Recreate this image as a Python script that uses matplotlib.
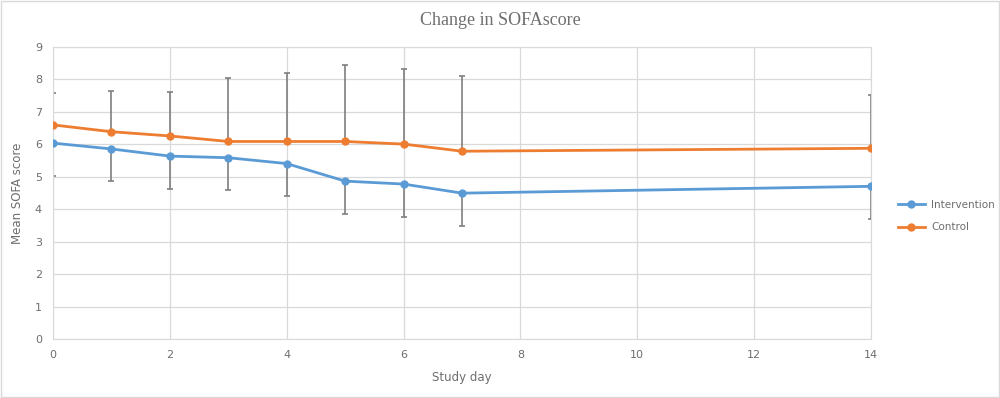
import matplotlib.pyplot as plt
import numpy as np

# Study days and mean SOFA score per group
days = [0, 1, 2, 3, 4, 5, 6, 7, 14]
intervention = [6.03, 5.85, 5.63, 5.58, 5.40, 4.86, 4.77, 4.49, 4.70]
control = [6.59, 6.38, 6.25, 6.08, 6.08, 6.08, 6.00, 5.78, 5.87]

# Error bars: intervention shown below only, control above only
intervention_err = [1.00, 0.99, 1.00, 0.99, 0.99, 1.00, 1.00, 1.01, 1.01]
control_err = [0.97, 1.25, 1.35, 1.94, 2.12, 2.34, 2.32, 2.30, 1.64]

blue = '#5b9bd5'
orange = '#ed7d31'
grey_text = '#6e6e6e'

fig = plt.figure(figsize=(10, 3.98), dpi=100)
ax = fig.add_axes([0.053, 0.148, 0.818, 0.735])

zeros = np.zeros(len(days))
ax.errorbar(days, intervention, yerr=[intervention_err, zeros], fmt='none',
            ecolor='#7f7f7f', elinewidth=1.2, capsize=2.5, capthick=1.2, zorder=2)
ax.errorbar(days, control, yerr=[zeros, control_err], fmt='none',
            ecolor='#7f7f7f', elinewidth=1.2, capsize=2.5, capthick=1.2, zorder=2)

ax.plot(days, intervention, color=blue, marker='o', markersize=5, linewidth=2,
        label='Intervention', zorder=3)
ax.plot(days, control, color=orange, marker='o', markersize=5, linewidth=2,
        label='Control', zorder=3)

ax.set_xlim(0, 14)
ax.set_ylim(0, 9)
ax.set_xticks(range(0, 15, 2))
ax.set_yticks(range(0, 10))
ax.grid(True, color='#d9d9d9', linewidth=0.9)
ax.set_axisbelow(True)
for s in ax.spines.values():
    s.set_color('#d9d9d9')
ax.tick_params(length=0, labelsize=8, colors=grey_text, pad=8)

ax.set_xlabel('Study day', fontsize=8.5, color=grey_text, labelpad=8)
ax.set_ylabel('Mean SOFA score', fontsize=8.5, color=grey_text, labelpad=8)

fig.text(0.5, 0.948, 'Change in SOFAscore', ha='center', va='center',
         fontsize=13, color=grey_text, family='Liberation Serif')

ax.legend(loc='center left', bbox_to_anchor=(1.021, 0.42), frameon=False,
          fontsize=7.5, labelcolor=grey_text, handlelength=2.6, labelspacing=1.2,
          handletextpad=0.6)

# light frame around the whole chart
fig.patches.append(plt.Rectangle((0.001, 0.002), 0.998, 0.996, transform=fig.transFigure,
                                 fill=False, edgecolor='#d9d9d9', linewidth=1))

fig.savefig('out.png', dpi=100)
